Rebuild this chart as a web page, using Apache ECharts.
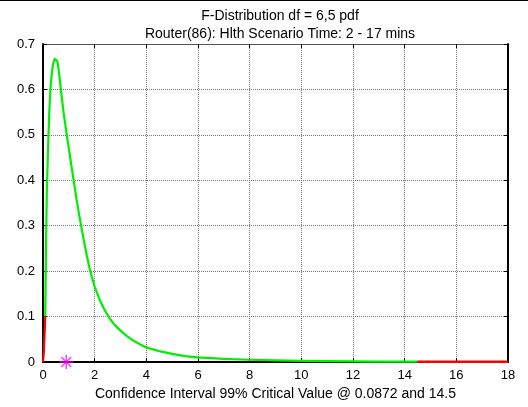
<!DOCTYPE html>
<html>
<head>
<meta charset="utf-8">
<script src="https://cdn.jsdelivr.net/npm/echarts@6/dist/echarts.min.js"></script>
<style>
html,body{margin:0;padding:0;background:#fff;}
#chart{width:528px;height:407px;}
</style>
</head>
<body>
<div id="chart"></div>
<script>
// ---- data ----
const titleLine1 = 'F-Distribution df = 6,5 pdf';
const titleLine2 = 'Router(86): Hlth Scenario Time: 2 - 17 mins';
const xAxisLabel = 'Confidence Interval 99% Critical Value @ 0.0872 and 14.5';
const xTicks = [0, 2, 4, 6, 8, 10, 12, 14, 16, 18];
const yTicks = [0, 0.1, 0.2, 0.3, 0.4, 0.5, 0.6, 0.7];

// green: pdf inside the 99% interval
const greenX = [0.0872,0.1,0.12,0.15,0.2,0.25,0.3,0.35,0.4,0.45,0.5,0.55,0.6,0.65,0.7,0.8,0.9,1.0,1.1,1.2,1.3,1.4,1.5,1.6,1.7,1.8,1.9,2.0,2.2,2.4,2.6,2.8,3.0,3.25,3.5,3.75,4.0,4.5,5.0,5.5,6.0,7.0,8.0,9.0,10,11,12,13,14,14.5];
const greenY = [0.10,0.17,0.27,0.38,0.48,0.56,0.61,0.64,0.658,0.667,0.669,0.663,0.646,0.622,0.595,0.548,0.508,0.47,0.432,0.395,0.358,0.324,0.292,0.262,0.233,0.207,0.185,0.166,0.136,0.113,0.094,0.08,0.069,0.057,0.047,0.039,0.032,0.024,0.018,0.013,0.010,0.007,0.005,0.0035,0.0025,0.0018,0.0013,0.001,0.0008,0.0007];

// red: tails outside the interval
const redLowX = [0, 0.03, 0.06, 0.0872];
const redLowY = [0, 0.02, 0.06, 0.10];
const redHighX = [14.5, 15, 16, 17, 18];
const redHighY = [0.0007, 0.0006, 0.0005, 0.0004, 0.0003];

// magenta asterisk marker
const markX = [0.9];
const markY = [0];

const zip = (xs, ys) => xs.map((x, i) => [x, ys[i]]);

const chart = echarts.init(document.getElementById('chart'), null, {renderer: 'canvas'});
const font = 'Liberation Sans, Arial, sans-serif';

const option = {
  backgroundColor: '#ffffff',
  animation: false,
  title: [
    {text: titleLine1, left: 275, top: 4, textAlign: 'center',
     textStyle: {fontFamily: font, fontSize: 14, fontWeight: 'normal', color: '#000'}},
    {text: titleLine2, left: 275, top: 22, textAlign: 'center',
     textStyle: {fontFamily: font, fontSize: 14, fontWeight: 'normal', color: '#000'}}
  ],
  grid: {left: 43, right: 20, top: 44, bottom: 45, show: false},
  xAxis: [
    {type: 'value', min: 0, max: 18, interval: 2,
     name: xAxisLabel, nameLocation: 'middle', nameGap: 24,
     nameTextStyle: {fontFamily: font, fontSize: 14, color: '#000'},
     axisLine: {show: true, onZero: false, lineStyle: {color: '#000', width: 2}},
     axisTick: {show: true, inside: true, length: 4, lineStyle: {color: '#000'}},
     axisLabel: {fontFamily: font, fontSize: 13, color: '#000', margin: 7,
       formatter: v => xTicks.includes(v) ? String(v) : ''},
     splitLine: {show: true, lineStyle: {color: '#777', type: [1, 1], width: 1}}},
    {type: 'value', min: 0, max: 18, interval: 2, position: 'top',
     axisLine: {show: true, onZero: false, lineStyle: {color: '#555', width: 1}},
     axisTick: {show: true, inside: true, length: 4, lineStyle: {color: '#000'}},
     axisLabel: {show: false}, splitLine: {show: false}}
  ],
  yAxis: [
    {type: 'value', min: 0, max: 0.7, interval: 0.1,
     axisLine: {show: true, onZero: false, lineStyle: {color: '#000', width: 2}},
     axisTick: {show: true, inside: true, length: 4, lineStyle: {color: '#000'}},
     axisLabel: {fontFamily: font, fontSize: 13, color: '#000', margin: 8,
       formatter: v => {const t = yTicks.find(y => Math.abs(y - v) < 1e-9); return t === undefined ? '' : String(t);}},
     splitLine: {show: true, lineStyle: {color: '#777', type: [1, 1], width: 1}}},
    {type: 'value', min: 0, max: 0.7, interval: 0.1, position: 'right',
     axisLine: {show: true, onZero: false, lineStyle: {color: '#000', width: 2}},
     axisTick: {show: true, inside: true, length: 4, lineStyle: {color: '#000'}},
     axisLabel: {show: false}, splitLine: {show: false}}
  ],
  series: [
    {type: 'line', data: zip(greenX, greenY), smooth: false, showSymbol: false, symbol: 'none',
     lineStyle: {color: '#00ee00', width: 2.2, join: 'round'}, z: 5},
    {type: 'line', data: zip(redLowX, redLowY), showSymbol: false, symbol: 'none',
     lineStyle: {color: '#ff0000', width: 2.2}, z: 6},
    {type: 'line', data: zip(redHighX, redHighY), showSymbol: false, symbol: 'none',
     lineStyle: {color: '#ff0000', width: 2.5}, z: 6},
    {type: 'scatter', data: zip(markX, markY), symbolSize: 14,
     symbol: 'path://M0 10 L20 10 M10 0 L10 20 M3 3 L17 17 M17 3 L3 17',
     itemStyle: {color: 'transparent', borderColor: '#ff00ff', borderWidth: 1.4}, z: 7}
  ],
  graphic: [
    {type: 'line', shape: {x1: 0, y1: 0.5, x2: 528, y2: 0.5},
     style: {stroke: '#000', lineWidth: 1}, silent: true}
  ]
};
chart.setOption(option);
</script>
</body>
</html>
